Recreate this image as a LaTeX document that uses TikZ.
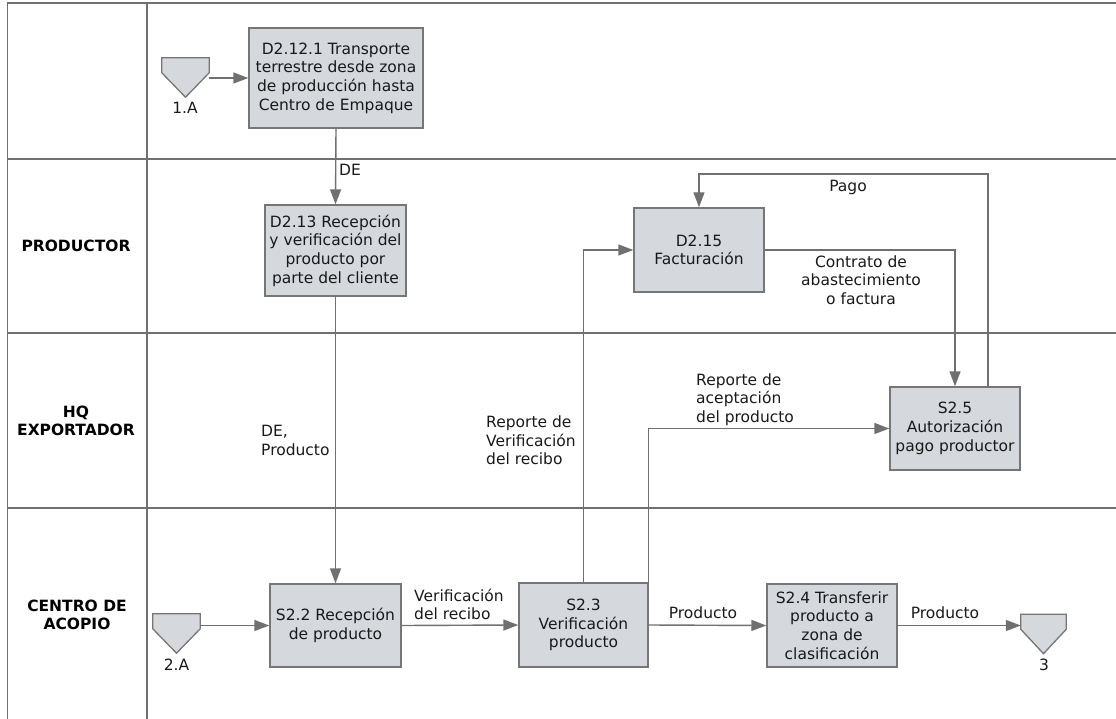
\documentclass[tikz,border=0pt]{standalone}
\usepackage{fontspec}
\setmainfont{DejaVu Sans}
\usetikzlibrary{arrows.meta,calc}
\definecolor{linegray}{RGB}{112,112,112}
\definecolor{boxfill}{RGB}{213,217,221}
\definecolor{boxline}{RGB}{118,118,118}
\definecolor{txt}{RGB}{25,25,25}
\begin{document}
\begin{tikzpicture}[x=1pt,y=-1pt,
  font=\fontsize{15.5}{18.7}\selectfont,
  lane/.style={draw=linegray, line width=1.4pt},
  proc/.style={draw=boxline, fill=boxfill, line width=1.4pt, align=center, inner sep=0pt, text=txt},
  arr/.style={draw=linegray, line width=1.4pt, -{Triangle[length=15pt,width=11pt]}},
  conn/.style={draw=boxline, fill=boxfill, line width=1.3pt, line join=miter},
  term/.style={minimum height=39pt, inner sep=0pt},
  lbl/.style={text=txt, inner sep=0pt},
  lanelbl/.style={font=\fontsize{15.5}{18.7}\selectfont\bfseries, align=center, text=black, inner sep=0pt}]
\useasboundingbox (0,0) rectangle (1116,719);

% swimlanes
\draw[lane] (7.5,719) -- (7.5,3) -- (1116,3);
\draw[lane] (147,3) -- (147,719);
\draw[lane] (7.5,159) -- (1116,159);
\draw[lane] (7.5,333) -- (1116,333);
\draw[lane] (7.5,508) -- (1116,508);

\node[lanelbl] (lp) at (76,246) {PRODUCTOR};
\node[lanelbl] (lh) at (76,421) {HQ\\EXPORTADOR};
\node[lanelbl] (lc) at (77,615) {CENTRO DE\\ACOPIO};

% process boxes
\node[proc, minimum width=174pt, minimum height=100pt] (n1) at (336,78) {D2.12.1 Transporte\\terrestre desde zona\\de producción hasta\\Centro de Empaque};
\node[proc, minimum width=141pt, minimum height=91pt] (n2) at (335.5,250.5) {D2.13 Recepción\\y verificación del\\producto por\\parte del cliente};
\node[proc, minimum width=130pt, minimum height=84pt] (n3) at (699,250) {D2.15\\Facturación};
\node[proc, minimum width=130pt, minimum height=83pt] (n4) at (955,428.5) {S2.5\\Autorización\\pago productor};
\node[proc, minimum width=131pt, minimum height=83pt] (n5) at (335.5,625.5) {S2.2 Recepción\\de producto};
\node[proc, minimum width=129pt, minimum height=84pt] (n6) at (583.5,625) {S2.3\\Verificación\\producto};
\node[proc, minimum width=130pt, minimum height=83pt] (n7) at (832,625.5) {S2.4 Transferir\\producto a\\zona de\\clasificación};

% off-page connectors
\node[term, minimum width=47pt] (t1) at (185.5,77.5) {};
\node[term, minimum width=47pt] (t2) at (176.5,633.5) {};
\node[term, minimum width=45pt] (t3) at (1043.5,634) {};
\foreach \t in {t1,t2,t3}{
  \draw[conn] (\t.north west) -- (\t.north east) -- ($(\t.north east)+(0,15)$) -- (\t.south) -- ($(\t.north west)+(0,15)$) -- cycle;
}
\node[lbl] (l1A) at (185,108) {1.A};
\node[lbl] (l2A) at (176.5,665) {2.A};
\node[lbl] (l3) at (1044,665) {3};

% connectors
\draw[arr] (t1.east |- n1.west) -- (n1.west);
\draw[arr] (n1.south) -- (n2.north);
\draw[arr] (n2.south) -- (n5.north);
\draw[arr] (t2.east |- n5.west) -- (n5.west);
\draw[arr] (n5.east) -- (n6.west);
\draw[arr] (n6.east) -- (n7.west);
\draw[arr] (n7.east) -- (t3.west |- n7.east);
\draw[arr] (n6.north) |- (n3.west);
\draw[arr] (n6.north east) |- (n4.west);
\draw[arr] (n3.east) -| (n4.north);
\coordinate (pg) at (988,174);
\draw[arr] (n4.north -| pg) -- (pg) -| (n3.north);

% connector labels
\node[lbl, anchor=west] (lDE) at (339,170) {DE};
\node[lbl, anchor=west, align=left] (lDEP) at (261,440.5) {DE,\\Producto};
\node[lbl, anchor=west, align=left] (lRV) at (486,440.5) {Reporte de\\Verificación\\del recibo};
\node[lbl, anchor=west, align=left] (lVR) at (414,604.5) {Verificación\\del recibo};
\node[lbl] (lP1) at (703,613) {Producto};
\node[lbl] (lP2) at (945,613) {Producto};
\node[lbl, anchor=west, align=left] (lRA) at (696,399.5) {Reporte de\\aceptación\\del producto};
\node[lbl] (lPago) at (848,187) {Pago};
\node[lbl, align=center] (lCA) at (861,280) {Contrato de\\abastecimiento\\o factura};
\end{tikzpicture}
\end{document}
